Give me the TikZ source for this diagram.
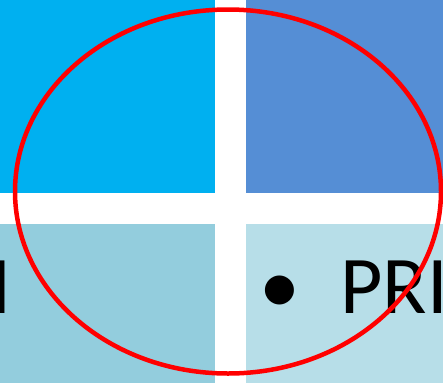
\documentclass[tikz,border=0pt]{standalone}
\usepackage{fontspec}
\setmainfont{Carlito}
\definecolor{tilecyan}{HTML}{00B0F0}
\definecolor{tileblue}{HTML}{558ED5}
\definecolor{tileteal}{HTML}{93CDDD}
\definecolor{tilepale}{HTML}{B7DEE8}
\begin{document}
\begin{tikzpicture}[x=1pt, y=-1pt, bigtext/.style={inner sep=0pt, font=\fontsize{82}{90}\selectfont}]
\useasboundingbox (0,0) rectangle (443,383);
\clip (0,0) rectangle (443,383);
\fill[white] (0,0) rectangle (443,383);
\fill[tilecyan] (0,0) rectangle (215,193);
\fill[tileblue] (246,0) rectangle (443,193);
\fill[tileteal] (0,224) rectangle (215,383);
\fill[tilepale] (246,224) rectangle (443,383);
\node[bigtext, anchor=base east] (lefttext) at (12,313) {M};
\node[bigtext, anchor=base] (bullet) at (280,313) {•};
\node[bigtext, anchor=base west] (pri) at (340,313) {PRI};
\draw[red, line width=4.5pt] (228,191.5) ellipse [x radius=213, y radius=182];
\end{tikzpicture}
\end{document}
